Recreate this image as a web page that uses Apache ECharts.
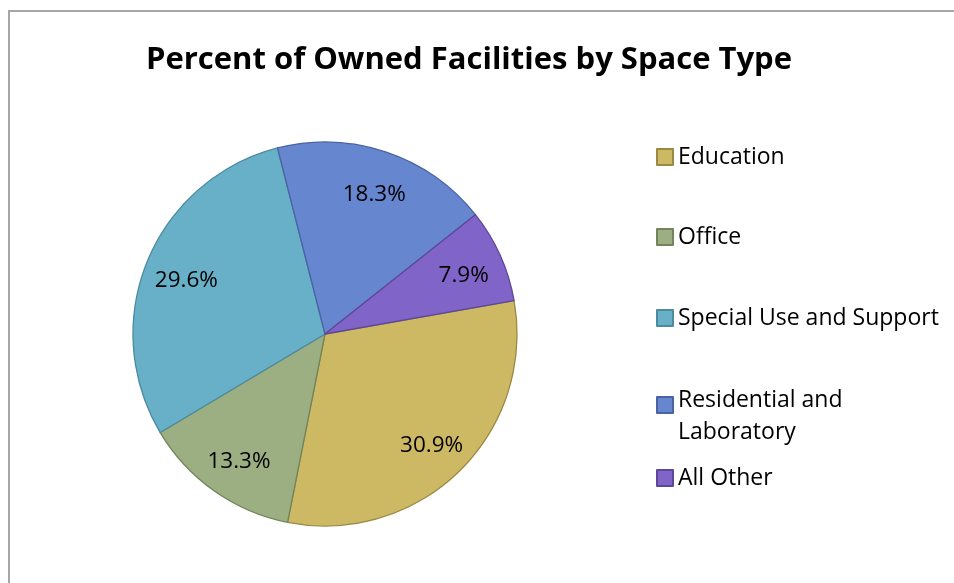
<!DOCTYPE html>
<html>
<head>
<meta charset="utf-8">
<script src="https://cdn.jsdelivr.net/npm/echarts@6/dist/echarts.min.js"></script>
<style>
html,body{margin:0;padding:0;background:#fff;}
#chart{width:954px;height:583px;}
</style>
</head>
<body>
<div id="chart"></div>
<script>
const titleText = 'Percent of Owned Facilities by Space Type';
const categories = ['Education', 'Office', 'Special Use and Support', 'Residential and Laboratory', 'All Other'];
const values = [30.9, 13.3, 29.6, 18.3, 7.9];
const fillColors = ['#CDB963', '#9BAF82', '#68B0C8', '#6686CF', '#8064C7'];
const borderColors = ['#9A8944', '#72855A', '#4C8AA0', '#4A64A3', '#5E479A'];
const legendTops = [141, 221, 302, 383, 462];

const font = '"Open Sans", "Liberation Sans", sans-serif';

const mainData = categories.map((c, i) => ({
  name: c, value: values[i],
  itemStyle: { color: fillColors[i], borderColor: borderColors[i], borderWidth: 1.3 }
}));
const labelData = categories.map((c, i) => ({ name: c, value: values[i] }));

const legends = categories.map((c, i) => {
  const multi = c === 'Residential and Laboratory';
  return {
    data: [c],
    orient: 'vertical',
    left: 656,
    top: legendTops[i],
    padding: 0,
    itemWidth: 16,
    itemHeight: multi ? 64 : 16,
    icon: multi ? 'path://M0,0M0,13L16,13L16,29L0,29ZM0,64' : 'rect',
    selectedMode: false,
    formatter: multi ? 'Residential and\nLaboratory' : '{name}',
    textStyle: { fontFamily: font, fontSize: 23, color: '#000', lineHeight: 32 }
  };
});

const chart = echarts.init(document.getElementById('chart'), null, { renderer: 'canvas' });
chart.setOption({
  backgroundColor: '#fff',
  animation: false,
  title: {
    text: titleText,
    left: 464, top: 40, textAlign: 'center',
    textStyle: { fontFamily: font, fontWeight: 'bold', fontSize: 31, color: '#000' }
  },
  legend: legends,
  graphic: [{
    type: 'rect', silent: true,
    shape: { x: 9, y: 11, width: 1100, height: 1100 },
    style: { fill: 'none', stroke: '#A6A6A6', lineWidth: 2 }
  }],
  series: [{
    type: 'pie',
    center: [325, 334],
    radius: [0, 192],
    startAngle: 10,
    clockwise: true,
    label: { show: false },
    labelLine: { show: false },
    emphasis: { disabled: true },
    data: mainData
  }, {
    type: 'pie',
    center: [326, 338],
    radius: [104, 192],
    startAngle: 10,
    clockwise: true,
    silent: true,
    itemStyle: { color: 'rgba(0,0,0,0)', borderWidth: 0 },
    label: {
      show: true, position: 'inside',
      formatter: '{c}%',
      fontFamily: font, fontSize: 22.5, color: '#000'
    },
    labelLine: { show: false },
    emphasis: { disabled: true },
    data: labelData
  }]
});
</script>
</body>
</html>
